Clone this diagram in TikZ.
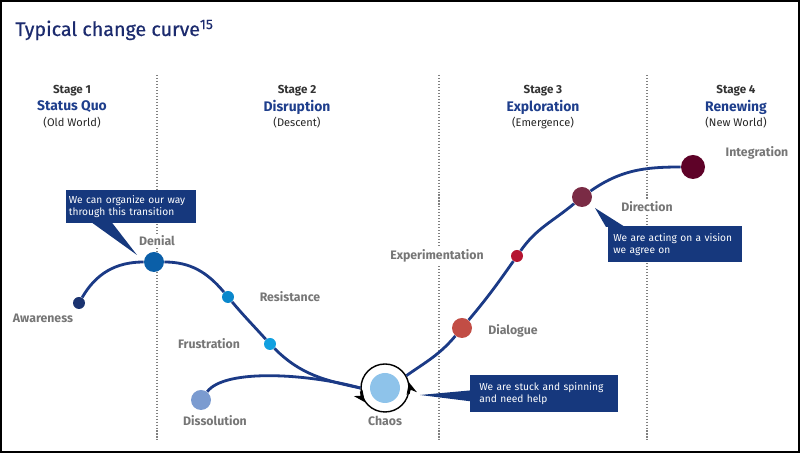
\documentclass[tikz,border=0pt]{standalone}
\usepackage{fontspec}
\setmainfont{Fira Sans}
\setsansfont{Fira Sans}
\newfontfamily\titlefont[FakeBold=0.6]{Fira Sans}
\usetikzlibrary{arrows.meta, positioning, calc}

\definecolor{titlenavy}{RGB}{28,43,110}
\definecolor{stageblue}{RGB}{30,62,140}
\definecolor{curveblue}{RGB}{27,58,134}
\definecolor{calloutblue}{RGB}{22,56,125}
\definecolor{lblgray}{RGB}{118,118,118}

\tikzset{
    stage_head/.style={font=\fontsize{6.6}{8}\selectfont\bfseries, text=black!80, inner sep=0pt},
    stage_name/.style={font=\fontsize{7.9}{10}\selectfont\bfseries, text=stageblue, inner sep=0pt},
    stage_sub/.style={font=\fontsize{6.3}{8}\selectfont, text=black!85, inner sep=0pt},
    phase_lbl/.style={font=\fontsize{7}{8}\selectfont\bfseries, text=lblgray, fill=white, inner sep=1pt},
    divider/.style={draw=black!50, line width=0.6pt, dash pattern=on 0.6pt off 1.1pt},
    curve_line/.style={draw=curveblue, line width=1.6pt},
    dot_small/.style={circle, inner sep=0pt, minimum size=2.4mm},
    dot_mid/.style={circle, inner sep=0pt, minimum size=4mm},
    dot_big/.style={circle, inner sep=0pt, minimum size=4.8mm},
    callout/.style={
        rectangle, fill=calloutblue, text=white, align=left, anchor=north west,
        font=\fontsize{5.8}{6.9}\selectfont, inner ysep=0pt
    },
    spin_arrow/.style={-{Stealth[length=6.5pt, width=6pt]}, line width=0.8pt}
}

\begin{document}
\begin{tikzpicture}[x=0.2mm, y=0.2mm]

    \useasboundingbox (0,0) rectangle (800,-453);
    \draw[black, line width=1.1pt] (1,-1) rectangle (799,-452);

    % --- Title ---
    \node[anchor=base west, inner sep=0pt, text=titlenavy, font=\titlefont\fontsize{11.2}{13}\selectfont] (title) at (15,-36)
        {Typical change curve\textsuperscript{15}};

    % --- Stage dividers ---
    \foreach \xx in {157,439,647}
        \draw[divider] (\xx,-75) -- (\xx,-440);

    % --- Stage headers ---
    \node[stage_head] (stage1) at (72,-91) {Stage 1};
    \node[stage_name] (quo) at (72,-107) {Status Quo};
    \node[stage_sub] (oldworld) at (72,-123) {(Old World)};

    \node[stage_head] (stage2) at (297,-91) {Stage 2};
    \node[stage_name] (disrupt) at (297,-107) {Disruption};
    \node[stage_sub] (descent) at (297,-123) {(Descent)};

    \node[stage_head] (stage3) at (543,-91) {Stage 3};
    \node[stage_name] (explore) at (543,-107) {Exploration};
    \node[stage_sub] (emerge) at (543,-123) {(Emergence)};

    \node[stage_head] (stage4) at (736,-91) {Stage 4};
    \node[stage_name] (renew) at (736,-107) {Renewing};
    \node[stage_sub] (newworld) at (736,-123) {(New World)};

    % --- Points on the curve ---
    \node[dot_small, fill={rgb,255:red,27;green,51;blue,112}] (awareness) at (79,-303) {};
    \node[dot_mid, fill={rgb,255:red,11;green,95;blue,168}] (denial) at (154,-262) {};
    \node[dot_small, fill={rgb,255:red,10;green,135;blue,204}] (resistance) at (228,-297) {};
    \node[dot_small, fill={rgb,255:red,17;green,160;blue,224}] (frustration) at (270,-344) {};
    \node[dot_mid, fill={rgb,255:red,123;green,155;blue,208}] (dissolution) at (201,-400) {};
    \node[circle, inner sep=0pt, minimum size=6mm, fill={rgb,255:red,142;green,195;blue,234}] (chaos) at (385,-388) {};
    \node[circle, inner sep=0pt, minimum size=9.6mm, draw=black, line width=0.8pt] (chaos_ring) at (385,-388) {};
    \node[dot_mid, fill={rgb,255:red,194;green,77;blue,69}] (dialogue) at (462,-328) {};
    \node[dot_small, fill={rgb,255:red,181;green,20;blue,48}] (experimentation) at (517,-256) {};
    \node[dot_mid, fill={rgb,255:red,122;green,43;blue,69}] (direction) at (582,-197) {};
    \node[dot_big, fill={rgb,255:red,94;green,2;blue,40}] (integration) at (693,-167) {};

    % --- The curve ---
    \draw[curve_line] (awareness) to[out=60,in=180] (denial)
        to[out=0,in=130] (resistance)
        to[out=-50,in=132] (frustration)
        to[out=-45,in=168] (chaos_ring.west);
    \draw[curve_line] (dissolution) .. controls (225,-368) and (310,-374) .. (chaos_ring.west);
    \draw[curve_line] (chaos_ring.30) to[out=35,in=-130] (dialogue)
        to[out=50,in=-125] (experimentation)
        to[out=55,in=-140] (direction)
        to[out=35,in=180] (integration);

    % spinning arrows on the ring
    \draw[spin_arrow] (chaos_ring.-14) arc[start angle=-14, end angle=14, radius=4.8mm];
    \draw[spin_arrow] (chaos_ring.188) arc[start angle=188, end angle=216, radius=4.8mm];

    % --- Labels ---
    \node[phase_lbl] (lbl_aware) at (43,-318) {Awareness};
    \node[phase_lbl] (lbl_denial) at (157,-241) {Denial};
    \node[phase_lbl] (lbl_resist) at (290,-297) {Resistance};
    \node[phase_lbl] (lbl_frust) at (209,-344) {Frustration};
    \node[phase_lbl] (lbl_diss) at (215,-421) {Dissolution};
    \node[phase_lbl] (lbl_chaos) at (385,-421) {Chaos};
    \node[phase_lbl] (lbl_exper) at (437,-256) {Experimentation};
    \node[phase_lbl] (lbl_dialog) at (513,-331) {Dialogue};
    \node[phase_lbl] (lbl_direct) at (647,-207) {Direction};
    \node[phase_lbl] (lbl_integ) at (757,-153) {Integration};

    % --- Callouts ---
    \node[callout, text width=25.0mm, inner xsep=0.5mm, minimum height=6.6mm] (org_note) at (66,-190)
        {We can organize our way\\through this transition};
    \fill[calloutblue] ($(org_note.south west)+(26,1)$) -- ($(org_note.south west)+(46,1)$)
        -- ($(denial.center)+(-17,7)$) -- cycle;

    \node[callout, text width=24.8mm, inner xsep=1.0mm, minimum height=7.2mm] (act_note) at (608,-226)
        {We are acting on a vision\\we agree on};
    \fill[calloutblue] ($(act_note.north west)+(-2,-1)$) -- ($(act_note.north west)+(17,-1)$)
        -- ($(direction.center)+(13,-11)$) -- cycle;

    \node[callout, text width=26.0mm, inner xsep=1.8mm, minimum height=7.4mm] (stuck_note) at (470,-375)
        {We are stuck and spinning\\and need help};
    \fill[calloutblue] ($(stuck_note.west)+(1,3.5)$) -- ($(stuck_note.west)+(1,-7.5)$)
        -- ($(chaos.center)+(35,-7)$) -- cycle;

\end{tikzpicture}
\end{document}
